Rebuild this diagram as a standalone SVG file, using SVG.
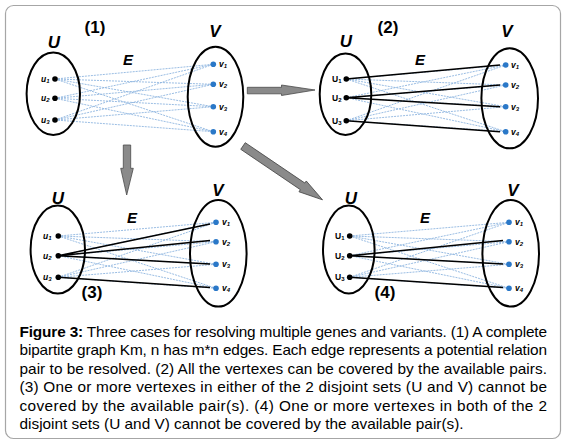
<svg xmlns="http://www.w3.org/2000/svg" width="566" height="445" viewBox="0 0 566 445">
<style>
.frame{fill:#fff;stroke:#a6a6a6;stroke-width:1.2}
.set{fill:none;stroke:#000;stroke-width:2}
.ud{fill:#000}
.vd{fill:#2a78c8}
.e{stroke:#8fb6e0;stroke-width:0.9;stroke-dasharray:2 1;fill:none}
.m{stroke:#000;stroke-width:1.6;fill:none}
.big{font-family:"Liberation Sans",Arial,sans-serif;font-weight:bold;font-style:italic;text-anchor:middle}
.num{font-family:"Liberation Sans",Arial,sans-serif;font-weight:bold;font-size:17px;text-anchor:middle}
.lbl{font-family:"Liberation Sans",Arial,sans-serif;font-weight:bold;font-size:8.5px}
.it{font-style:italic}
.sub{font-size:6px}
.arr{fill:#8a8a8a;stroke:#4a4a4a;stroke-width:0.8}
.cap{font-family:"Liberation Sans",Arial,sans-serif;font-size:14.5px;fill:#000}
</style>
<rect class="frame" x="5.5" y="5.5" width="555" height="433" rx="8"/>

<g id="connectors">
  <g id="edges-1">
    <path class="e" d="M55 79L213.3 64.3M55 79L213.3 84.3M55 79L213.3 106.7M55 79L213.3 131.7M55 98.3L213.3 64.3M55 98.3L213.3 84.3M55 98.3L213.3 106.7M55 98.3L213.3 131.7M55 120L213.3 64.3M55 120L213.3 84.3M55 120L213.3 106.7M55 120L213.3 131.7"/>
  </g>
  <g id="edges-2">
    <path class="e" d="M346.3 79L505.7 65M346.3 79L505.7 85M346.3 79L505.7 106.7M346.3 79L505.7 131.7M346.3 97.7L505.7 65M346.3 97.7L505.7 85M346.3 97.7L505.7 106.7M346.3 97.7L505.7 131.7M346.3 120.7L505.7 65M346.3 120.7L505.7 85M346.3 120.7L505.7 106.7M346.3 120.7L505.7 131.7"/>
    <path class="m" d="M346.3 79L500 65M346.3 97.7L500 85M346.3 97.7L500 106.7M346.3 120.7L500 131.7"/>
  </g>
  <g id="edges-3">
    <path class="e" d="M58.3 236L216 222.3M58.3 236L216 241.7M58.3 236L216 264.3M58.3 236L216 288.3M58.3 255.7L216 222.3M58.3 255.7L216 241.7M58.3 255.7L216 264.3M58.3 255.7L216 288.3M58.3 277.3L216 222.3M58.3 277.3L216 241.7M58.3 277.3L216 264.3M58.3 277.3L216 288.3"/>
    <path class="m" d="M58.3 255.7L210 224M58.3 255.7L210 240.5M58.3 255.7L210 264M58.3 277.3L210 287.5"/>
  </g>
  <g id="edges-4">
    <path class="e" d="M349.7 236L509 222.3M349.7 236L509 241.7M349.7 236L509 264.3M349.7 236L509 288.3M349.7 255.7L509 222.3M349.7 255.7L509 241.7M349.7 255.7L509 264.3M349.7 255.7L509 288.3M349.7 277.3L509 222.3M349.7 277.3L509 241.7M349.7 277.3L509 264.3M349.7 277.3L509 288.3"/>
    <path class="m" d="M349.7 255.7L503 240.5M349.7 255.7L503 264M349.7 277.3L503 287.5"/>
  </g>
  <polygon id="arrow-1-2" class="arr" points="247.3,87.3 281.5,87.3 281.5,85 315,90 281.5,95.5 281.5,93.8 247.3,93.8"/>
  <polygon id="arrow-1-3" class="arr" points="123.3,145 130.7,145 130.7,168.3 133.3,168.3 126.7,195 120.7,168.3 123.3,168.3"/>
  <polygon id="arrow-1-4" class="arr" transform="translate(243,146) rotate(34.1)" points="0,-4 72,-4 72,-6.5 96,0 72,6.5 72,4 0,4"/>
</g>

<g id="panel-1">
  <text class="num" x="95" y="33">(1)</text>
  <text class="big" x="215" y="37" font-size="17">V</text>
  <text class="big" x="128" y="65" font-size="15">E</text>
  <g id="U1set"><text class="big" x="54" y="48" font-size="17">U</text><ellipse class="set" cx="53.3" cy="93.8" rx="26.7" ry="41.2"/></g>
  <g id="V1set"><ellipse class="set" cx="215.5" cy="96.7" rx="27.8" ry="50"/></g>
  <g id="p1-u1"><circle class="ud" cx="55" cy="79" r="2.8"/><text class="lbl it" x="41" y="82">u<tspan class="sub" dy="1">1</tspan></text></g>
  <g id="p1-u2"><circle class="ud" cx="55" cy="98.3" r="2.8"/><text class="lbl it" x="41" y="101.3">u<tspan class="sub" dy="1">2</tspan></text></g>
  <g id="p1-u3"><circle class="ud" cx="55" cy="120" r="2.8"/><text class="lbl it" x="41" y="123">u<tspan class="sub" dy="1">3</tspan></text></g>
  <g id="p1-v1"><circle class="vd" cx="213.3" cy="64.3" r="2.8"/><text class="lbl it" x="219" y="67.3">v<tspan class="sub" dy="1">1</tspan></text></g>
  <g id="p1-v2"><circle class="vd" cx="213.3" cy="84.3" r="2.8"/><text class="lbl it" x="219" y="87.3">v<tspan class="sub" dy="1">2</tspan></text></g>
  <g id="p1-v3"><circle class="vd" cx="213.3" cy="106.7" r="2.8"/><text class="lbl it" x="219" y="109.7">v<tspan class="sub" dy="1">3</tspan></text></g>
  <g id="p1-v4"><circle class="vd" cx="213.3" cy="131.7" r="2.8"/><text class="lbl it" x="219" y="134.7">v<tspan class="sub" dy="1">4</tspan></text></g>
</g>

<g id="panel-2">
  <text class="num" x="388" y="33">(2)</text>
  <text class="big" x="507" y="37" font-size="17">V</text>
  <text class="big" x="420" y="65" font-size="15">E</text>
  <g id="U2set"><text class="big" x="346" y="47" font-size="17">U</text><ellipse class="set" cx="345.5" cy="94.2" rx="25.8" ry="40.8"/></g>
  <g id="V2set"><ellipse class="set" cx="509.7" cy="98.3" rx="28.3" ry="50"/></g>
  <g id="p2-u1"><circle class="ud" cx="346.3" cy="79" r="2.8"/><text class="lbl" x="332" y="82">U<tspan class="sub" dy="1">1</tspan></text></g>
  <g id="p2-u2"><circle class="ud" cx="346.3" cy="97.7" r="2.8"/><text class="lbl" x="332" y="100.7">U<tspan class="sub" dy="1">2</tspan></text></g>
  <g id="p2-u3"><circle class="ud" cx="346.3" cy="120.7" r="2.8"/><text class="lbl" x="332" y="123.7">U<tspan class="sub" dy="1">3</tspan></text></g>
  <g id="p2-v1"><circle class="vd" cx="505.7" cy="65" r="2.8"/><text class="lbl it" x="511" y="68">v<tspan class="sub" dy="1">1</tspan></text></g>
  <g id="p2-v2"><circle class="vd" cx="505.7" cy="85" r="2.8"/><text class="lbl it" x="511" y="88">v<tspan class="sub" dy="1">2</tspan></text></g>
  <g id="p2-v3"><circle class="vd" cx="505.7" cy="106.7" r="2.8"/><text class="lbl it" x="511" y="109.7">v<tspan class="sub" dy="1">3</tspan></text></g>
  <g id="p2-v4"><circle class="vd" cx="505.7" cy="131.7" r="2.8"/><text class="lbl it" x="511" y="134.7">v<tspan class="sub" dy="1">4</tspan></text></g>
</g>

<g id="panel-3">
  <text class="num" x="92" y="298">(3)</text>
  <text class="big" x="218" y="196" font-size="17">V</text>
  <text class="big" x="132" y="223" font-size="15">E</text>
  <g id="U3set"><text class="big" x="58" y="204" font-size="17">U</text><ellipse class="set" cx="57.8" cy="249.5" rx="27.2" ry="44"/></g>
  <g id="V3set"><ellipse class="set" cx="218.3" cy="253.3" rx="28.3" ry="53.3"/></g>
  <g id="p3-u1"><circle class="ud" cx="58.3" cy="236" r="2.8"/><text class="lbl it" x="43" y="239">u<tspan class="sub" dy="1">1</tspan></text></g>
  <g id="p3-u2"><circle class="ud" cx="58.3" cy="255.7" r="2.8"/><text class="lbl it" x="43" y="258.7">u<tspan class="sub" dy="1">2</tspan></text></g>
  <g id="p3-u3"><circle class="ud" cx="58.3" cy="277.3" r="2.8"/><text class="lbl it" x="43" y="280.3">u<tspan class="sub" dy="1">3</tspan></text></g>
  <g id="p3-v1"><circle class="vd" cx="216" cy="222.3" r="2.8"/><text class="lbl it" x="222" y="225.3">v<tspan class="sub" dy="1">1</tspan></text></g>
  <g id="p3-v2"><circle class="vd" cx="216" cy="241.7" r="2.8"/><text class="lbl it" x="222" y="244.7">v<tspan class="sub" dy="1">2</tspan></text></g>
  <g id="p3-v3"><circle class="vd" cx="216" cy="264.3" r="2.8"/><text class="lbl it" x="222" y="267.3">v<tspan class="sub" dy="1">3</tspan></text></g>
  <g id="p3-v4"><circle class="vd" cx="216" cy="288.3" r="2.8"/><text class="lbl it" x="222" y="291.3">v<tspan class="sub" dy="1">4</tspan></text></g>
</g>

<g id="panel-4">
  <text class="num" x="385" y="298">(4)</text>
  <text class="big" x="513" y="196" font-size="17">V</text>
  <text class="big" x="425" y="223" font-size="15">E</text>
  <g id="U4set"><text class="big" x="351" y="204" font-size="17">U</text><ellipse class="set" cx="348.8" cy="249.5" rx="25.8" ry="44"/></g>
  <g id="V4set"><ellipse class="set" cx="510.7" cy="253.3" rx="28.3" ry="53.3"/></g>
  <g id="p4-u1"><circle class="ud" cx="349.7" cy="236" r="2.8"/><text class="lbl" x="335" y="239">U<tspan class="sub" dy="1">1</tspan></text></g>
  <g id="p4-u2"><circle class="ud" cx="349.7" cy="255.7" r="2.8"/><text class="lbl" x="335" y="258.7">U<tspan class="sub" dy="1">2</tspan></text></g>
  <g id="p4-u3"><circle class="ud" cx="349.7" cy="277.3" r="2.8"/><text class="lbl" x="335" y="280.3">U<tspan class="sub" dy="1">3</tspan></text></g>
  <g id="p4-v1"><circle class="vd" cx="509" cy="222.3" r="2.8"/><text class="lbl it" x="515" y="225.3">v<tspan class="sub" dy="1">1</tspan></text></g>
  <g id="p4-v2"><circle class="vd" cx="509" cy="241.7" r="2.8"/><text class="lbl it" x="515" y="244.7">v<tspan class="sub" dy="1">2</tspan></text></g>
  <g id="p4-v3"><circle class="vd" cx="509" cy="264.3" r="2.8"/><text class="lbl it" x="515" y="267.3">v<tspan class="sub" dy="1">3</tspan></text></g>
  <g id="p4-v4"><circle class="vd" cx="509" cy="288.3" r="2.8"/><text class="lbl it" x="515" y="291.3">v<tspan class="sub" dy="1">4</tspan></text></g>
</g>

<g id="caption" class="cap" transform="translate(19.5,0) scale(1.06,1)">
  <text x="0" y="337" textLength="497.6" lengthAdjust="spacing"><tspan font-weight="bold">Figure 3:</tspan> Three cases for resolving multiple genes and variants. (1) A complete</text>
  <text x="0" y="355.5" textLength="497.6" lengthAdjust="spacing">bipartite graph Km, n has m*n edges. Each edge represents a potential relation</text>
  <text x="0" y="374" textLength="497.6" lengthAdjust="spacing">pair to be resolved. (2) All the vertexes can be covered by the available pairs.</text>
  <text x="0" y="392.5" textLength="497.6" lengthAdjust="spacing">(3) One or more vertexes in either of the 2 disjoint sets (U and V) cannot be</text>
  <text x="0" y="411" textLength="497.6" lengthAdjust="spacing">covered by the available pair(s). (4) One or more vertexes in both of the 2</text>
  <text x="0" y="429.5">disjoint sets (U and V) cannot be covered by the available pair(s).</text>
</g>
</svg>
